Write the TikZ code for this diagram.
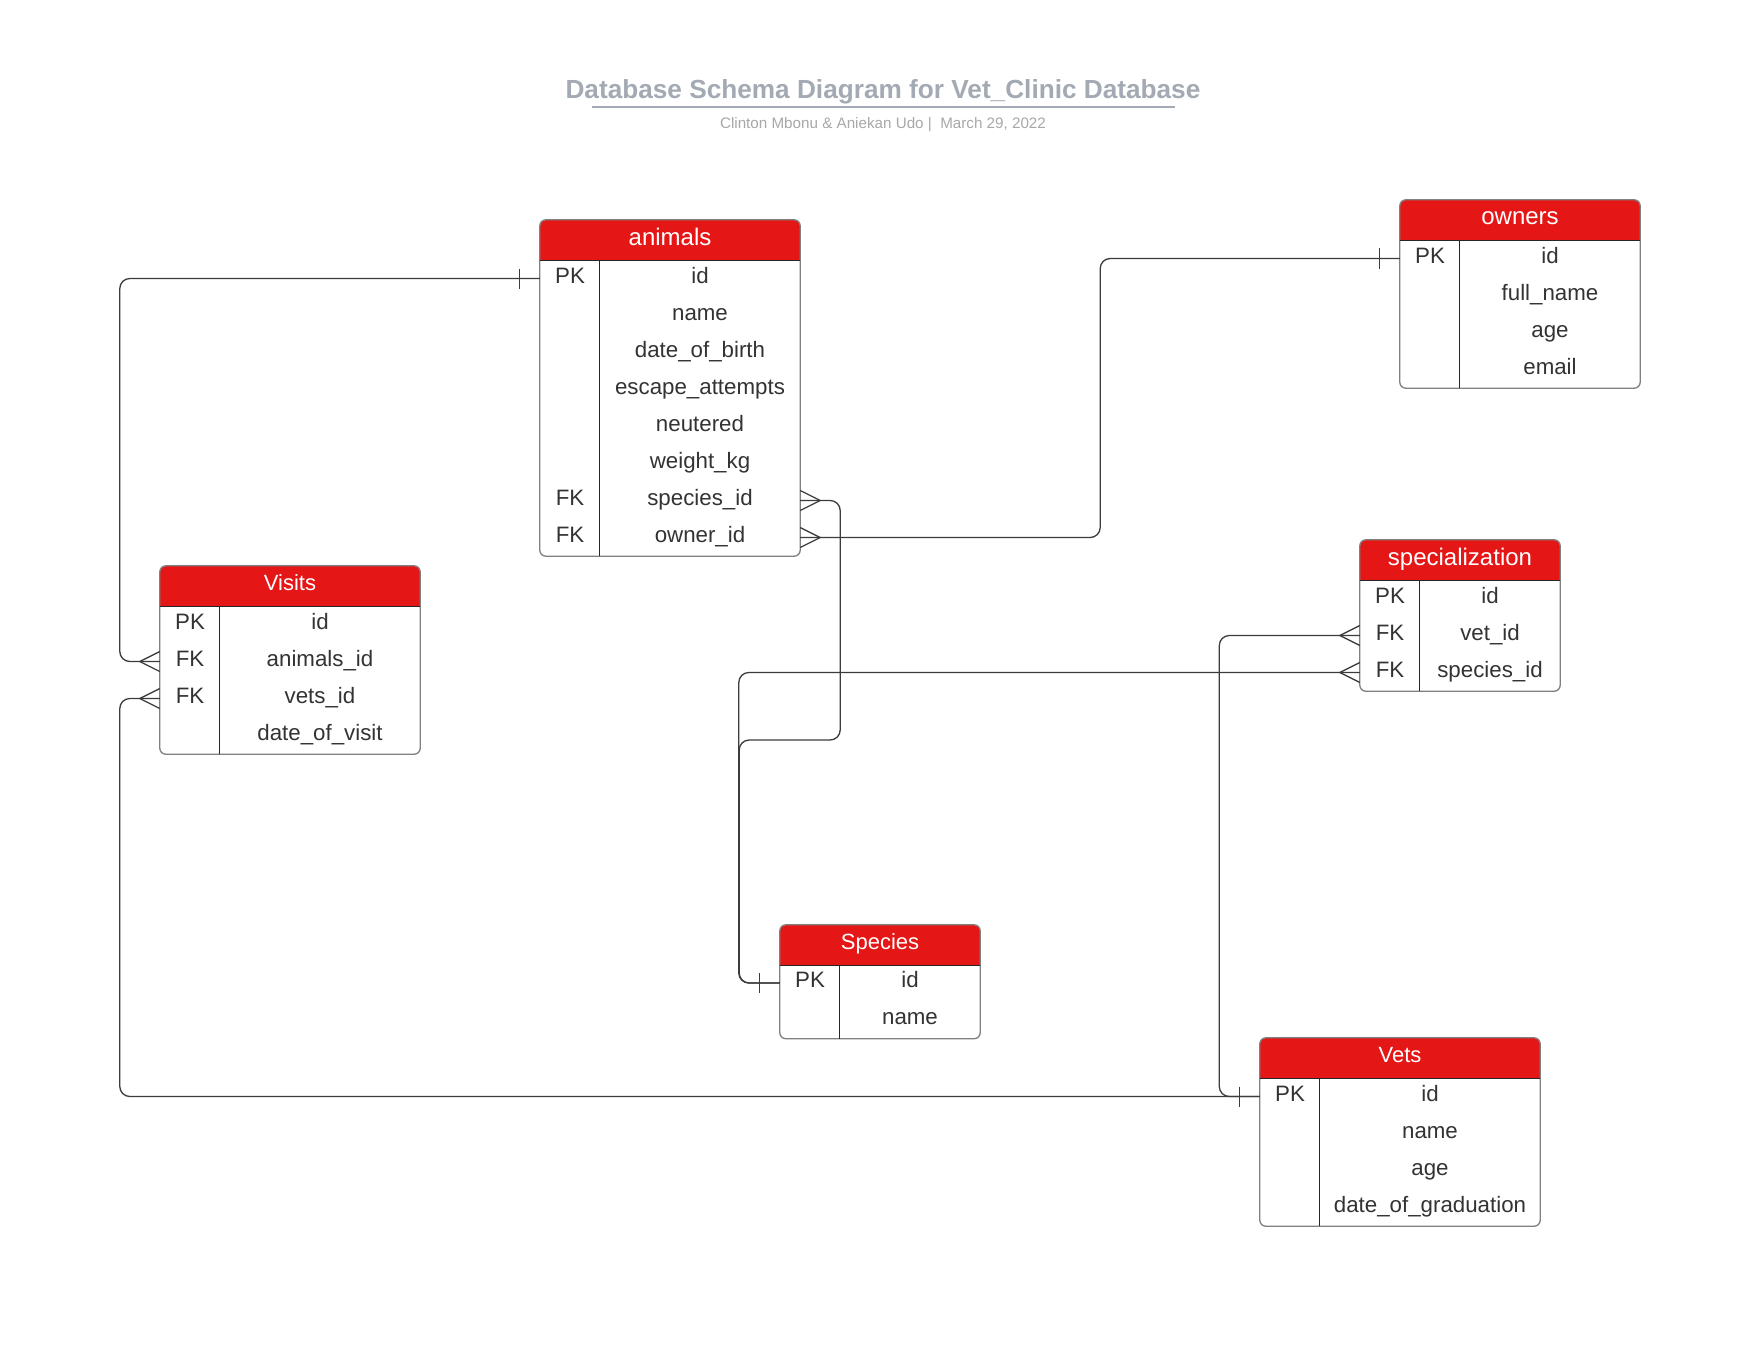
\documentclass[tikz,border=0pt]{standalone}
\usepackage{fontspec}
\setmainfont{Liberation Sans}
\usepackage{color}
\usepackage{tikz}

\definecolor{hdred}{HTML}{E51616}
\definecolor{txtgray}{HTML}{333333}
\definecolor{ttlgray}{HTML}{A4AAB3}
\definecolor{subgray}{HTML}{A8A8A8}
\definecolor{lnk}{HTML}{3C3C3C}

\tikzset{
	head/.style={fill=hdred, text=white, rounded corners=6pt, minimum height=40pt, inner sep=0pt, text height=18pt, text depth=8pt, font=\fontsize{24}{28}\selectfont},
	headsm/.style={head, text height=16.5pt, text depth=7.5pt, font=\fontsize{22}{26}\selectfont},
	key/.style={minimum width=60pt, minimum height=37pt, inner sep=0pt, text=txtgray, text height=16.7pt, text depth=7.6pt, font=\fontsize{22.3}{26}\selectfont},
	field/.style={key},
	frame/.style={draw=black!50, line width=1.3pt, rounded corners=6pt},
	sep/.style={draw=black!85, line width=1.2pt},
	rel/.style={draw=lnk, line width=1.3pt, rounded corners=10pt},
	ermark/.style={draw=lnk, line width=1.3pt},
	one/.pic={\draw[ermark] (-20,-10) -- (-20,10);},
	many/.pic={\draw[ermark] (0,-10) -- (-20,0) -- (0,10);}
}

\begin{document}
\begin{tikzpicture}[x=1pt,y=-1pt]
		\fill[white] (0,0) rectangle (1759,1359);
		\useasboundingbox (0,0) rectangle (1759,1359);
		
		\node[font=\fontsize{26.2}{30}\selectfont\bfseries, text=ttlgray, anchor=base] (title) at (883,99) {Database Schema Diagram for Vet\_Clinic Database};
		\draw[ttlgray, line width=2pt] (592,106.6) -- (1174.5,106.6);
		\node[font=\fontsize{15.2}{18}\selectfont, text=subgray, anchor=base] (byline) at (883,129) {Clinton Mbonu \& Aniekan Udo |\ \ March 29, 2022};
		
		
		\node[head, minimum width=260pt] (animals) at (670,240) {animals};
		\fill[hdred] ([yshift=10pt]animals.south west) rectangle (animals.south east);
		\node[key] (animals-k1) at (570,278.5) {PK};
		\node[field, minimum width=200pt] (animals-id) at (700,278.5) {id};
		\node[field, minimum width=200pt] (animals-name) at (700,315.5) {name};
		\node[field, minimum width=200pt] (animals-birth) at (700,352.5) {date\_of\_birth};
		\node[field, minimum width=200pt] (animals-escape) at (700,389.5) {escape\_attempts};
		\node[field, minimum width=200pt] (animals-neutered) at (700,426.5) {neutered};
		\node[field, minimum width=200pt] (animals-weight) at (700,463.5) {weight\_kg};
		\node[key] (animals-k7) at (570,500.5) {FK};
		\node[field, minimum width=200pt] (animals-species) at (700,500.5) {species\_id};
		\node[key] (animals-k8) at (570,537.5) {FK};
		\node[field, minimum width=200pt] (animals-owner) at (700,537.5) {owner\_id};
		\draw[frame] (animals.north west) rectangle (animals-owner.south east);
		\draw[sep] (animals.south west) -- (animals.south east);
		\draw[sep] (animals.south west -| animals-id.west) -- (animals-owner.south west);
		
		
		\node[head, minimum width=240pt] (owners) at (1520,220) {owners};
		\fill[hdred] ([yshift=10pt]owners.south west) rectangle (owners.south east);
		\node[key] (owners-k1) at (1430,258.5) {PK};
		\node[field, minimum width=180pt] (owners-id) at (1550,258.5) {id};
		\node[field, minimum width=180pt] (owners-name) at (1550,295.5) {full\_name};
		\node[field, minimum width=180pt] (owners-age) at (1550,332.5) {age};
		\node[field, minimum width=180pt] (owners-email) at (1550,369.5) {email};
		\draw[frame] (owners.north west) rectangle (owners-email.south east);
		\draw[sep] (owners.south west) -- (owners.south east);
		\draw[sep] (owners.south west -| owners-id.west) -- (owners-email.south west);
		
		
		\node[headsm, minimum width=260pt] (visits) at (290,586) {Visits};
		\fill[hdred] ([yshift=10pt]visits.south west) rectangle (visits.south east);
		\node[key] (visits-k1) at (190,624.5) {PK};
		\node[field, minimum width=200pt] (visits-id) at (320,624.5) {id};
		\node[key] (visits-k2) at (190,661.5) {FK};
		\node[field, minimum width=200pt] (visits-animal) at (320,661.5) {animals\_id};
		\node[key] (visits-k3) at (190,698.5) {FK};
		\node[field, minimum width=200pt] (visits-vet) at (320,698.5) {vets\_id};
		\node[field, minimum width=200pt] (visits-date) at (320,735.5) {date\_of\_visit};
		\draw[frame] (visits.north west) rectangle (visits-date.south east);
		\draw[sep] (visits.south west) -- (visits.south east);
		\draw[sep] (visits.south west -| visits-id.west) -- (visits-date.south west);
		
		
		\node[head, minimum width=200pt] (spec) at (1460,560) {specialization};
		\fill[hdred] ([yshift=10pt]spec.south west) rectangle (spec.south east);
		\node[key] (spec-k1) at (1390,598.5) {PK};
		\node[field, minimum width=140pt] (spec-id) at (1490,598.5) {id};
		\node[key] (spec-k2) at (1390,635.5) {FK};
		\node[field, minimum width=140pt] (spec-vet) at (1490,635.5) {vet\_id};
		\node[key] (spec-k3) at (1390,672.5) {FK};
		\node[field, minimum width=140pt] (spec-species) at (1490,672.5) {species\_id};
		\draw[frame] (spec.north west) rectangle (spec-species.south east);
		\draw[sep] (spec.south west) -- (spec.south east);
		\draw[sep] (spec.south west -| spec-id.west) -- (spec-species.south west);
		
		
		\node[headsm, minimum width=200pt] (species) at (880,945) {Species};
		\fill[hdred] ([yshift=10pt]species.south west) rectangle (species.south east);
		\node[key] (species-k1) at (810,983) {PK};
		\node[field, minimum width=140pt] (species-id) at (910,983) {id};
		\node[field, minimum width=140pt] (species-name) at (910,1020) {name};
		\draw[frame] (species.north west) rectangle (species-name.south east);
		\draw[sep] (species.south west) -- (species.south east);
		\draw[sep] (species.south west -| species-id.west) -- (species-name.south west);
		
		
		\node[headsm, minimum width=280pt] (vets) at (1400,1058) {Vets};
		\fill[hdred] ([yshift=10pt]vets.south west) rectangle (vets.south east);
		\node[key] (vets-k1) at (1290,1096.5) {PK};
		\node[field, minimum width=220pt] (vets-id) at (1430,1096.5) {id};
		\node[field, minimum width=220pt] (vets-name) at (1430,1133.5) {name};
		\node[field, minimum width=220pt] (vets-age) at (1430,1170.5) {age};
		\node[field, minimum width=220pt] (vets-grad) at (1430,1207.5) {date\_of\_graduation};
		\draw[frame] (vets.north west) rectangle (vets-grad.south east);
		\draw[sep] (vets.south west) -- (vets.south east);
		\draw[sep] (vets.south west -| vets-id.west) -- (vets-grad.south west);
		
		
		\draw[rel] (animals-k1.west) -- ++(-420,0) |- (visits-k2.west);
		\pic at (animals-k1.west) {one};
		\pic at (visits-k2.west) {many};
		
		\draw[rel] (visits-k3.west) -- ++(-40,0) |- (vets-k1.west);
		\pic at (visits-k3.west) {many};
		\pic at (vets-k1.west) {one};
		
		\draw[rel] (animals-species.east) -- ++(40,0) -- ++(0,239.5) -- ++(-101,0) |- (species-k1.west);
		\pic[xscale=-1] at (animals-species.east) {many};
		\pic at (species-k1.west) {one};
		
		\draw[rel] (animals-owner.east) -- ++(300,0) |- (owners-k1.west);
		\pic[xscale=-1] at (animals-owner.east) {many};
		\pic at (owners-k1.west) {one};
		
		\draw[rel] (spec-k2.west) -- ++(-140.5,0) |- (vets-k1.west);
		\pic at (spec-k2.west) {many};
		
		\draw[rel] (spec-k3.west) -- ++(-621,0) |- (species-k1.west);
		\pic at (spec-k3.west) {many};
		
	\end{tikzpicture}
\end{document}
